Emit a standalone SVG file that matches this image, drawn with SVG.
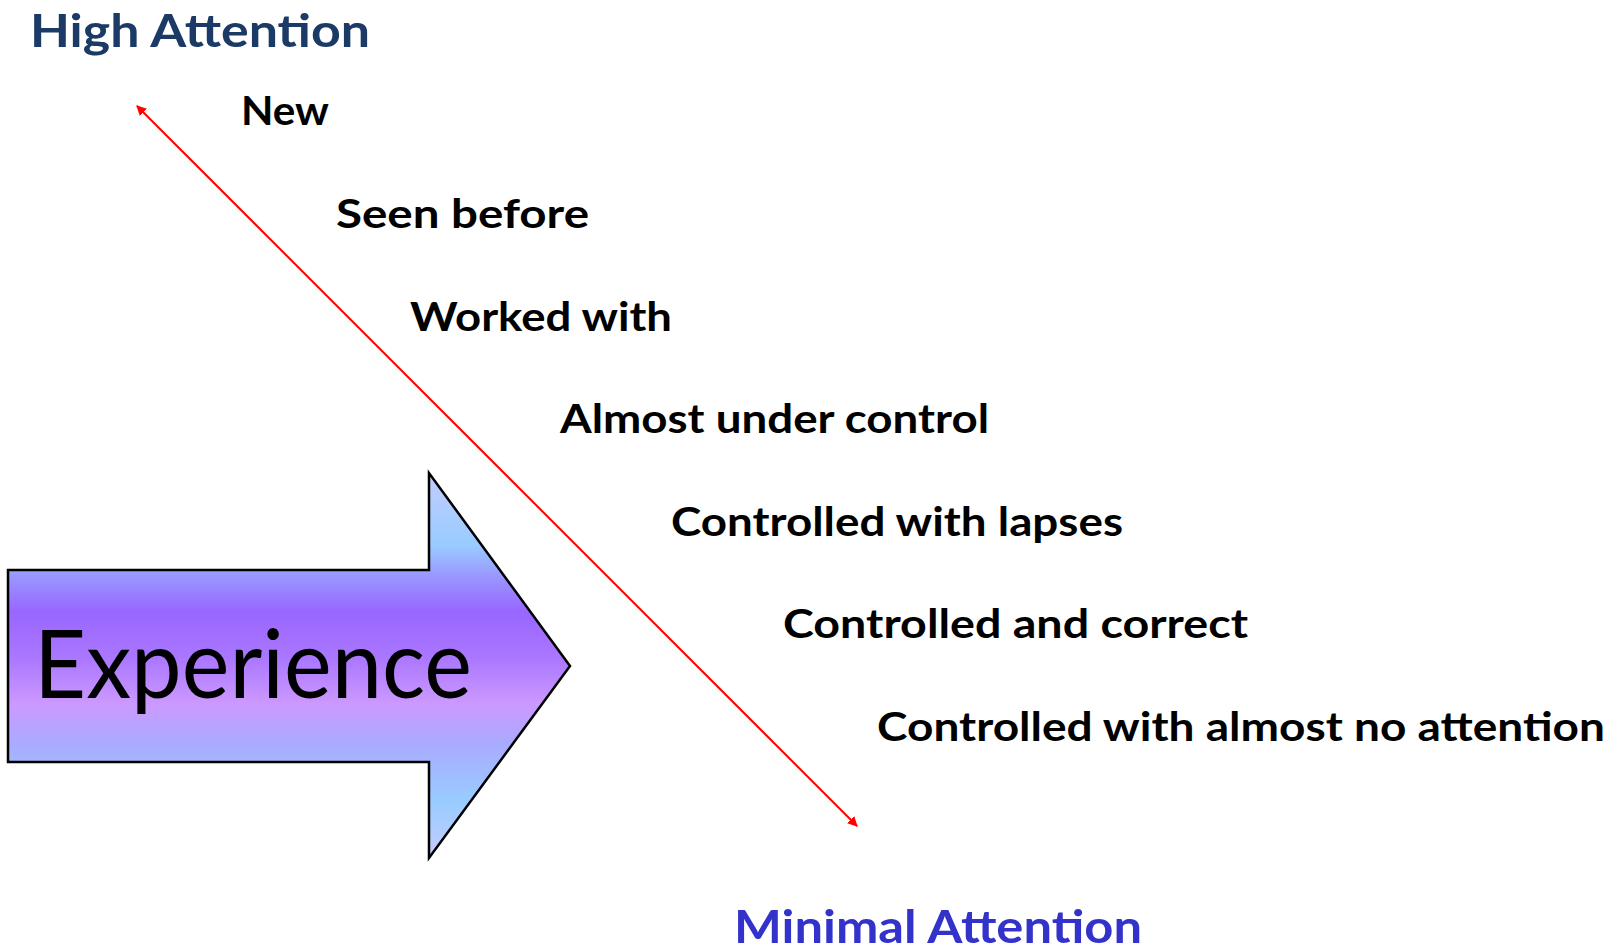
<svg xmlns="http://www.w3.org/2000/svg" width="1621" height="950" viewBox="0 0 1621 950">
<defs>
<style>
.lbl{font-family:"Lato","Liberation Sans",sans-serif;font-weight:bold;font-size:40px;fill:#000}
.hdr{font-family:"Lato","Liberation Sans",sans-serif;font-weight:bold;font-size:46px}
</style>
<linearGradient id="g" x1="0" y1="0" x2="0" y2="1">
<stop offset="0" stop-color="#c4ccff"/>
<stop offset="0.187" stop-color="#99ccff"/>
<stop offset="0.265" stop-color="#9999ff"/>
<stop offset="0.36" stop-color="#9966ff"/>
<stop offset="0.48" stop-color="#aa77ff"/>
<stop offset="0.6" stop-color="#cc99ff"/>
<stop offset="0.7" stop-color="#aaaaff"/>
<stop offset="0.85" stop-color="#99ccff"/>
<stop offset="1" stop-color="#c4ccff"/>
</linearGradient>
<marker id="ah" viewBox="0 0 10 10" refX="9" refY="5" markerWidth="5" markerHeight="5" orient="auto-start-reverse" markerUnits="strokeWidth">
<path d="M0,0 L10,5 L0,10 z" fill="#ff0000"/>
</marker>
</defs>
<rect width="1621" height="950" fill="#fff"/>
<g id="experience">
<polygon points="8,570 429,570 429,473 570,666 429,858 429,762 8,762" fill="url(#g)" stroke="#000" stroke-width="2.5"/>
<text x="34" y="698" font-family="Lato,'Liberation Sans',sans-serif" font-size="95" textLength="438" lengthAdjust="spacingAndGlyphs">Experience</text>
</g>
<g id="connectors">
<line x1="137" y1="106" x2="857" y2="826" stroke="#ff0000" stroke-width="2" marker-start="url(#ah)" marker-end="url(#ah)"/>
</g>
<g id="high"><text class="hdr" x="30" y="47" fill="#1b3a66" textLength="340" lengthAdjust="spacingAndGlyphs">High Attention</text></g>
<g id="minimal"><text class="hdr" x="734" y="943" fill="#3333cc" textLength="408" lengthAdjust="spacingAndGlyphs">Minimal Attention</text></g>
<g id="n1"><text class="lbl" x="241" y="125" textLength="88" lengthAdjust="spacingAndGlyphs">New</text></g>
<g id="n2"><text class="lbl" x="336" y="228" textLength="253" lengthAdjust="spacingAndGlyphs">Seen before</text></g>
<g id="n3"><text class="lbl" x="410" y="331" textLength="262" lengthAdjust="spacingAndGlyphs">Worked with</text></g>
<g id="n4"><text class="lbl" x="560" y="433" textLength="429" lengthAdjust="spacingAndGlyphs">Almost under control</text></g>
<g id="n5"><text class="lbl" x="671" y="536" textLength="452" lengthAdjust="spacingAndGlyphs">Controlled with lapses</text></g>
<g id="n6"><text class="lbl" x="783" y="638" textLength="465" lengthAdjust="spacingAndGlyphs">Controlled and correct</text></g>
<g id="n7"><text class="lbl" x="877" y="741" textLength="728" lengthAdjust="spacingAndGlyphs">Controlled with almost no attention</text></g>
</svg>
